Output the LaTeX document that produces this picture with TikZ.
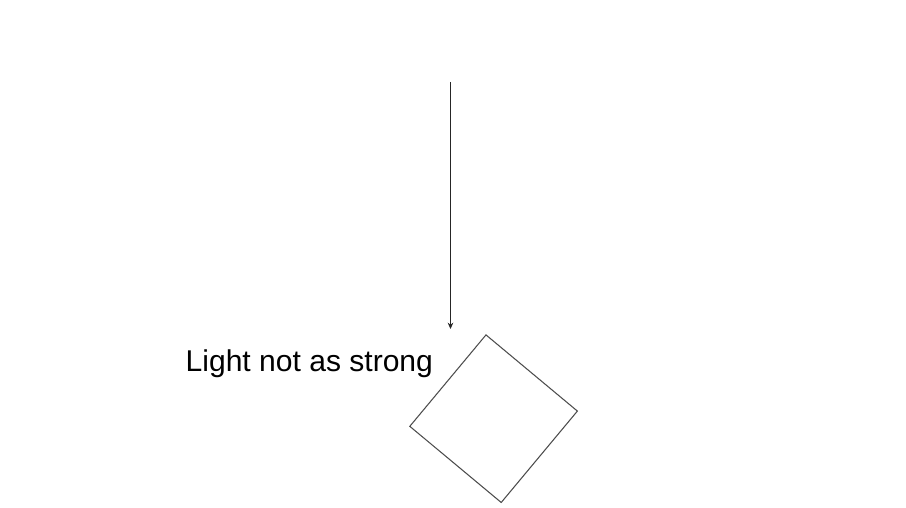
\documentclass[tikz,border=0pt]{standalone}
\usepackage{fontspec}
\setmainfont{Liberation Sans}
\usetikzlibrary{arrows.meta}
\begin{document}
\begin{tikzpicture}
\useasboundingbox (0,0) rectangle (9.06,5.08);
% Paprsek
\coordinate (zdroj) at (4.505,4.26);
\coordinate (cil) at (4.505,1.79);
\draw[-{Stealth[length=1.8pt,width=1.6pt]}, line width=0.3pt, black!85] (zdroj) -- (cil);
% Ctverec
\node[draw=black!70, line width=0.3pt, minimum size=1.19cm, inner sep=0, rotate=50.2] (ctverec) at (4.936,0.893) {};
% Popisek
\node[anchor=base west, inner sep=0, font=\fontsize{8.55pt}{10pt}\selectfont] (popis) at (1.85,1.363) {Light not as strong};
\end{tikzpicture}
\end{document}
